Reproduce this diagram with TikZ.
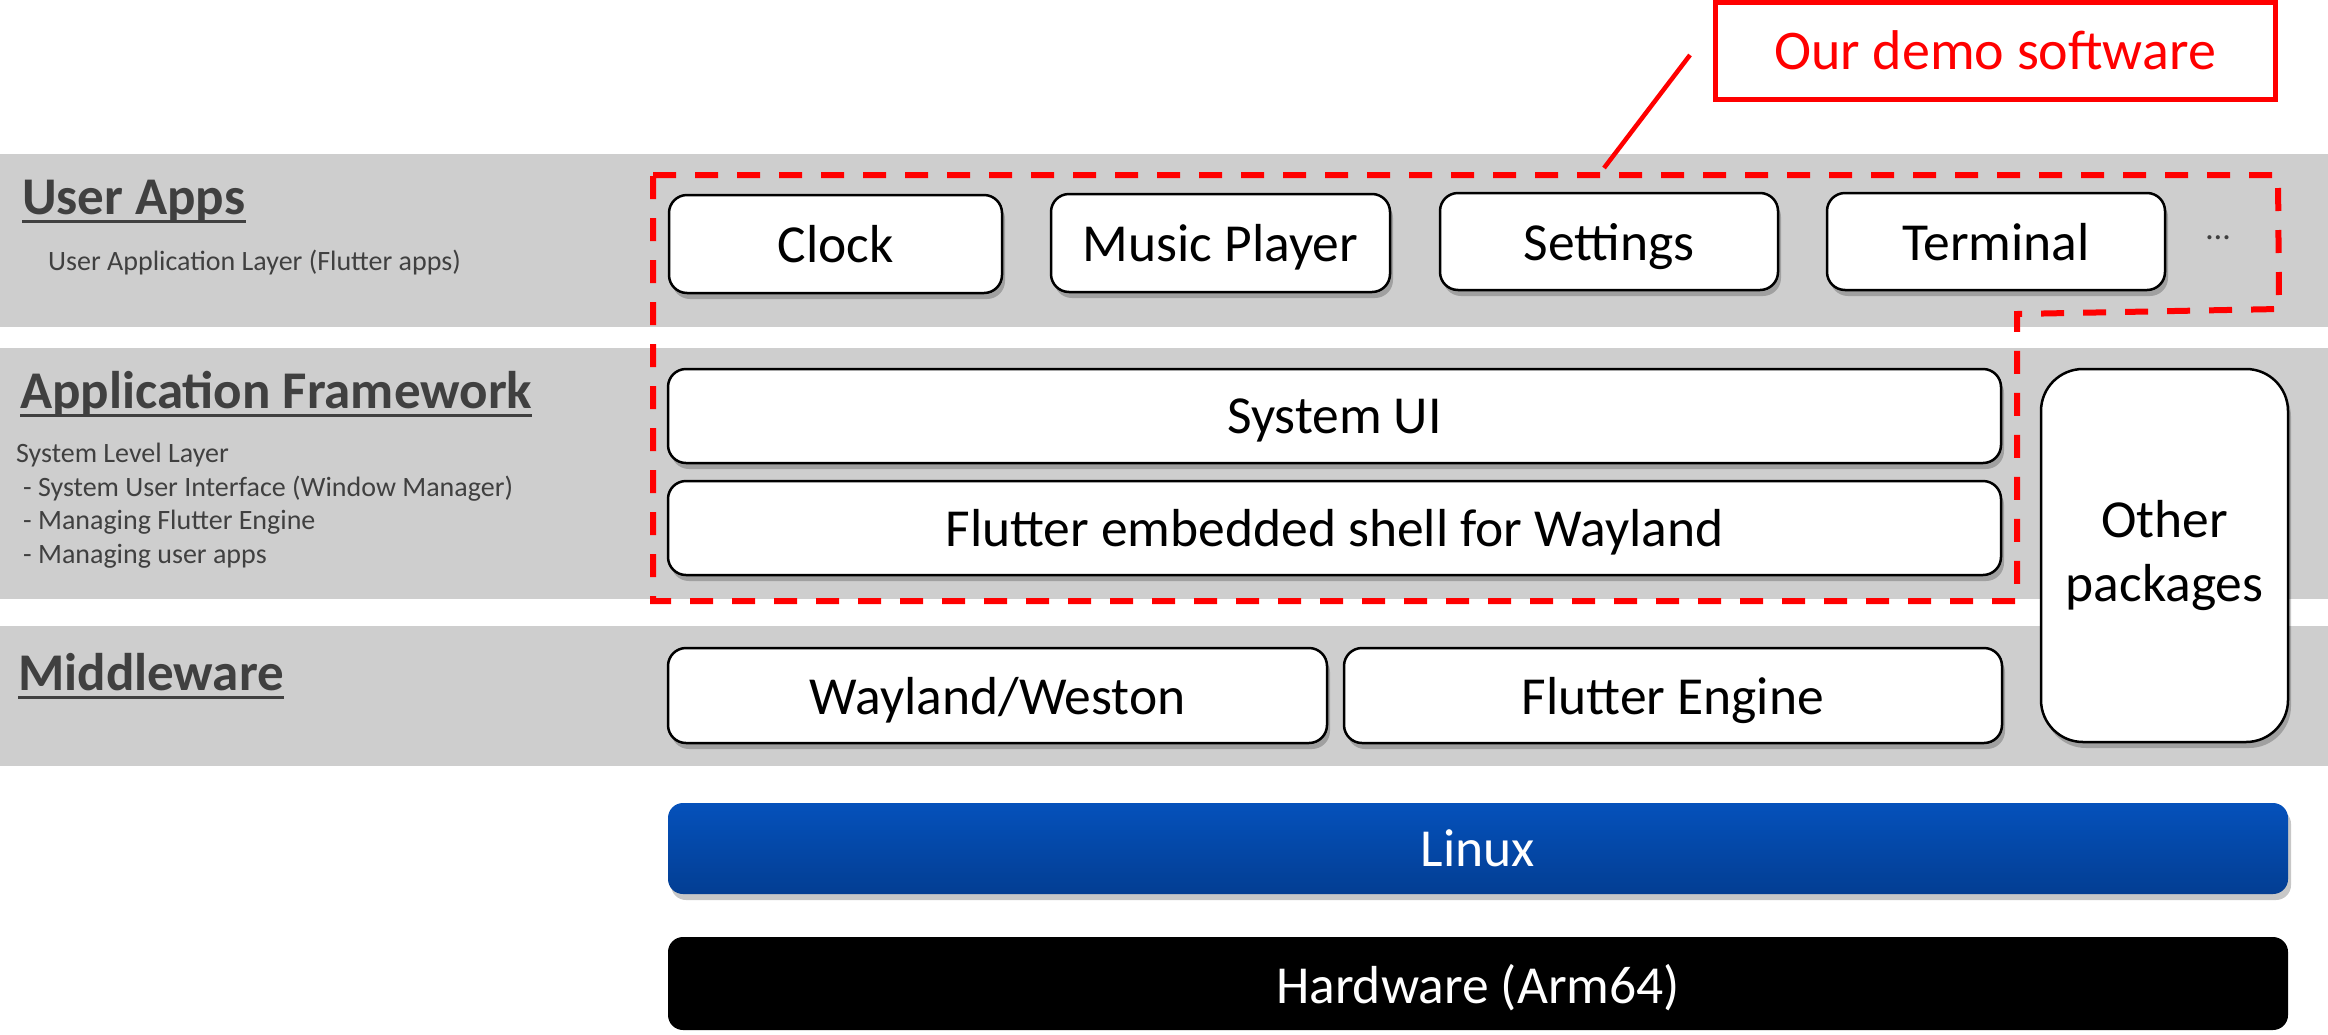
\documentclass[tikz,border=0pt]{standalone}
\usepackage{fontspec}
\setmainfont{Carlito}
\usetikzlibrary{shadows}
\definecolor{band}{HTML}{CECECE}
\definecolor{lbl}{HTML}{404040}
\definecolor{demored}{HTML}{FF0000}
\definecolor{linuxtop}{HTML}{0551BB}
\definecolor{linuxbot}{HTML}{033E93}
\tikzset{
  boxshadow/.style={drop shadow={shadow xshift=3pt, shadow yshift=-6pt, opacity=0.22, fill=black}},
  appbox/.style={draw=black, line width=2.5pt, fill=white, rounded corners=18pt, inner sep=0pt,
    text depth=0pt, font=\fontsize{53.5}{64}\selectfont, boxshadow},
  title/.style={anchor=base west, inner sep=0pt, text=lbl, font=\bfseries\fontsize{53}{63}\selectfont},
  sub/.style={anchor=base west, inner sep=0pt, text=lbl, font=\fontsize{28}{33}\selectfont},
  uline/.style={draw=lbl, line width=3pt},
  bandfill/.style={fill=band, draw=none},
  demodash/.style={draw=demored, line width=6pt, dash pattern=on 23pt off 19pt},
}
\begin{document}
\begin{tikzpicture}[x=1pt, y=-1pt]
\useasboundingbox (0,0) rectangle (2328,1034);
\fill[white] (0,0) rectangle (2328,1034);
% bands
\path[bandfill] (0,154) rectangle (2328,327);
\path[bandfill] (0,348) rectangle (2328,599);
\path[bandfill] (0,626) rectangle (2328,766);
% left labels
\node[title] (ua) at (22,214) {User Apps};
\draw[uline] ([yshift=-7pt]ua.base west) -- ([yshift=-7pt]ua.base east);
\node[sub] (uad) at (48,270) {User Application Layer (Flutter apps)};
\node[title] (af) at (20,408) {Application Framework};
\draw[uline] ([yshift=-7pt]af.base west) -- ([yshift=-7pt]af.base east);
\node[sub] (af1) at (16,462) {System Level Layer};
\node[sub] (af2) at (23,496) {- System User Interface (Window Manager)};
\node[sub] (af3) at (23,529) {- Managing Flutter Engine};
\node[sub] (af4) at (23,563) {- Managing user apps};
\node[title] (mw) at (18,690) {Middleware};
\draw[uline] ([yshift=-7pt]mw.base west) -- ([yshift=-7pt]mw.base east);
% user apps
\node[appbox, minimum width=333pt, minimum height=98pt] (clock) at (835.5,244) {Clock};
\node[appbox, minimum width=339pt, minimum height=98pt] (music) at (1220.5,243) {Music Player};
\node[appbox, minimum width=338pt, minimum height=97pt] (settings) at (1609,241.5) {Settings};
\node[appbox, minimum width=338pt, minimum height=97pt] (terminal) at (1996,241.5) {Terminal};
\node[inner sep=0pt, text=lbl, font=\fontsize{34}{40}\selectfont] (dots) at (2218,238) {\ldots};
% framework
\node[appbox, minimum width=1333pt, minimum height=94pt] (sysui) at (1334.5,416) {System UI};
\node[appbox, minimum width=1333pt, minimum height=94pt] (shell) at (1334.5,528) {Flutter embedded shell for Wayland};
\node[appbox, rounded corners=42pt, minimum width=247pt, minimum height=373pt, align=center,
  text depth=, font=\fontsize{53.5}{64}\selectfont] (other) at (2164.5,555.5) {Other\\packages};
% middleware
\node[appbox, minimum width=659pt, minimum height=95pt] (wayland) at (997.5,695.5) {Wayland/Weston};
\node[appbox, minimum width=658pt, minimum height=95pt] (engine) at (1673,695.5) {Flutter Engine};
% linux and hardware
\node[draw=none, top color=linuxtop, bottom color=linuxbot, rounded corners=15pt, inner sep=0pt, text depth=0pt,
  minimum width=1620pt, minimum height=91pt, text=white, font=\fontsize{53.5}{64}\selectfont, boxshadow] (linux) at (1478,848.5) {Linux};
\node[fill=black, rounded corners=15pt, inner sep=0pt, text depth=0pt,
  minimum width=1620pt, minimum height=93pt, text=white, font=\fontsize{53.5}{64}\selectfont] (hw) at (1478,983.5) {Hardware (Arm64)};
% demo outline
\coordinate (d1) at (653,175);
\coordinate (d2) at (2278,175);
\coordinate (d3) at (2279,309);
\coordinate (d4) at (2017,314);
\coordinate (d5) at (2017,601);
\coordinate (d6) at (653,601);
\draw[demodash] (d1) -- (d2) -- (d3) -- (d4) -- (d5) -- (d6) -- cycle;
% callout
\node[draw=demored, line width=5pt, fill=white, inner sep=0pt, text depth=0pt, minimum width=560pt, minimum height=97pt,
  text=demored, font=\fontsize{56}{66}\selectfont] (demo) at (1995,50.5) {Our demo software};
\coordinate (callA) at (1690,55);
\coordinate (callB) at (1604,168);
\draw[demored, line width=4.5pt] (callA) -- (callB);
\end{tikzpicture}
\end{document}
